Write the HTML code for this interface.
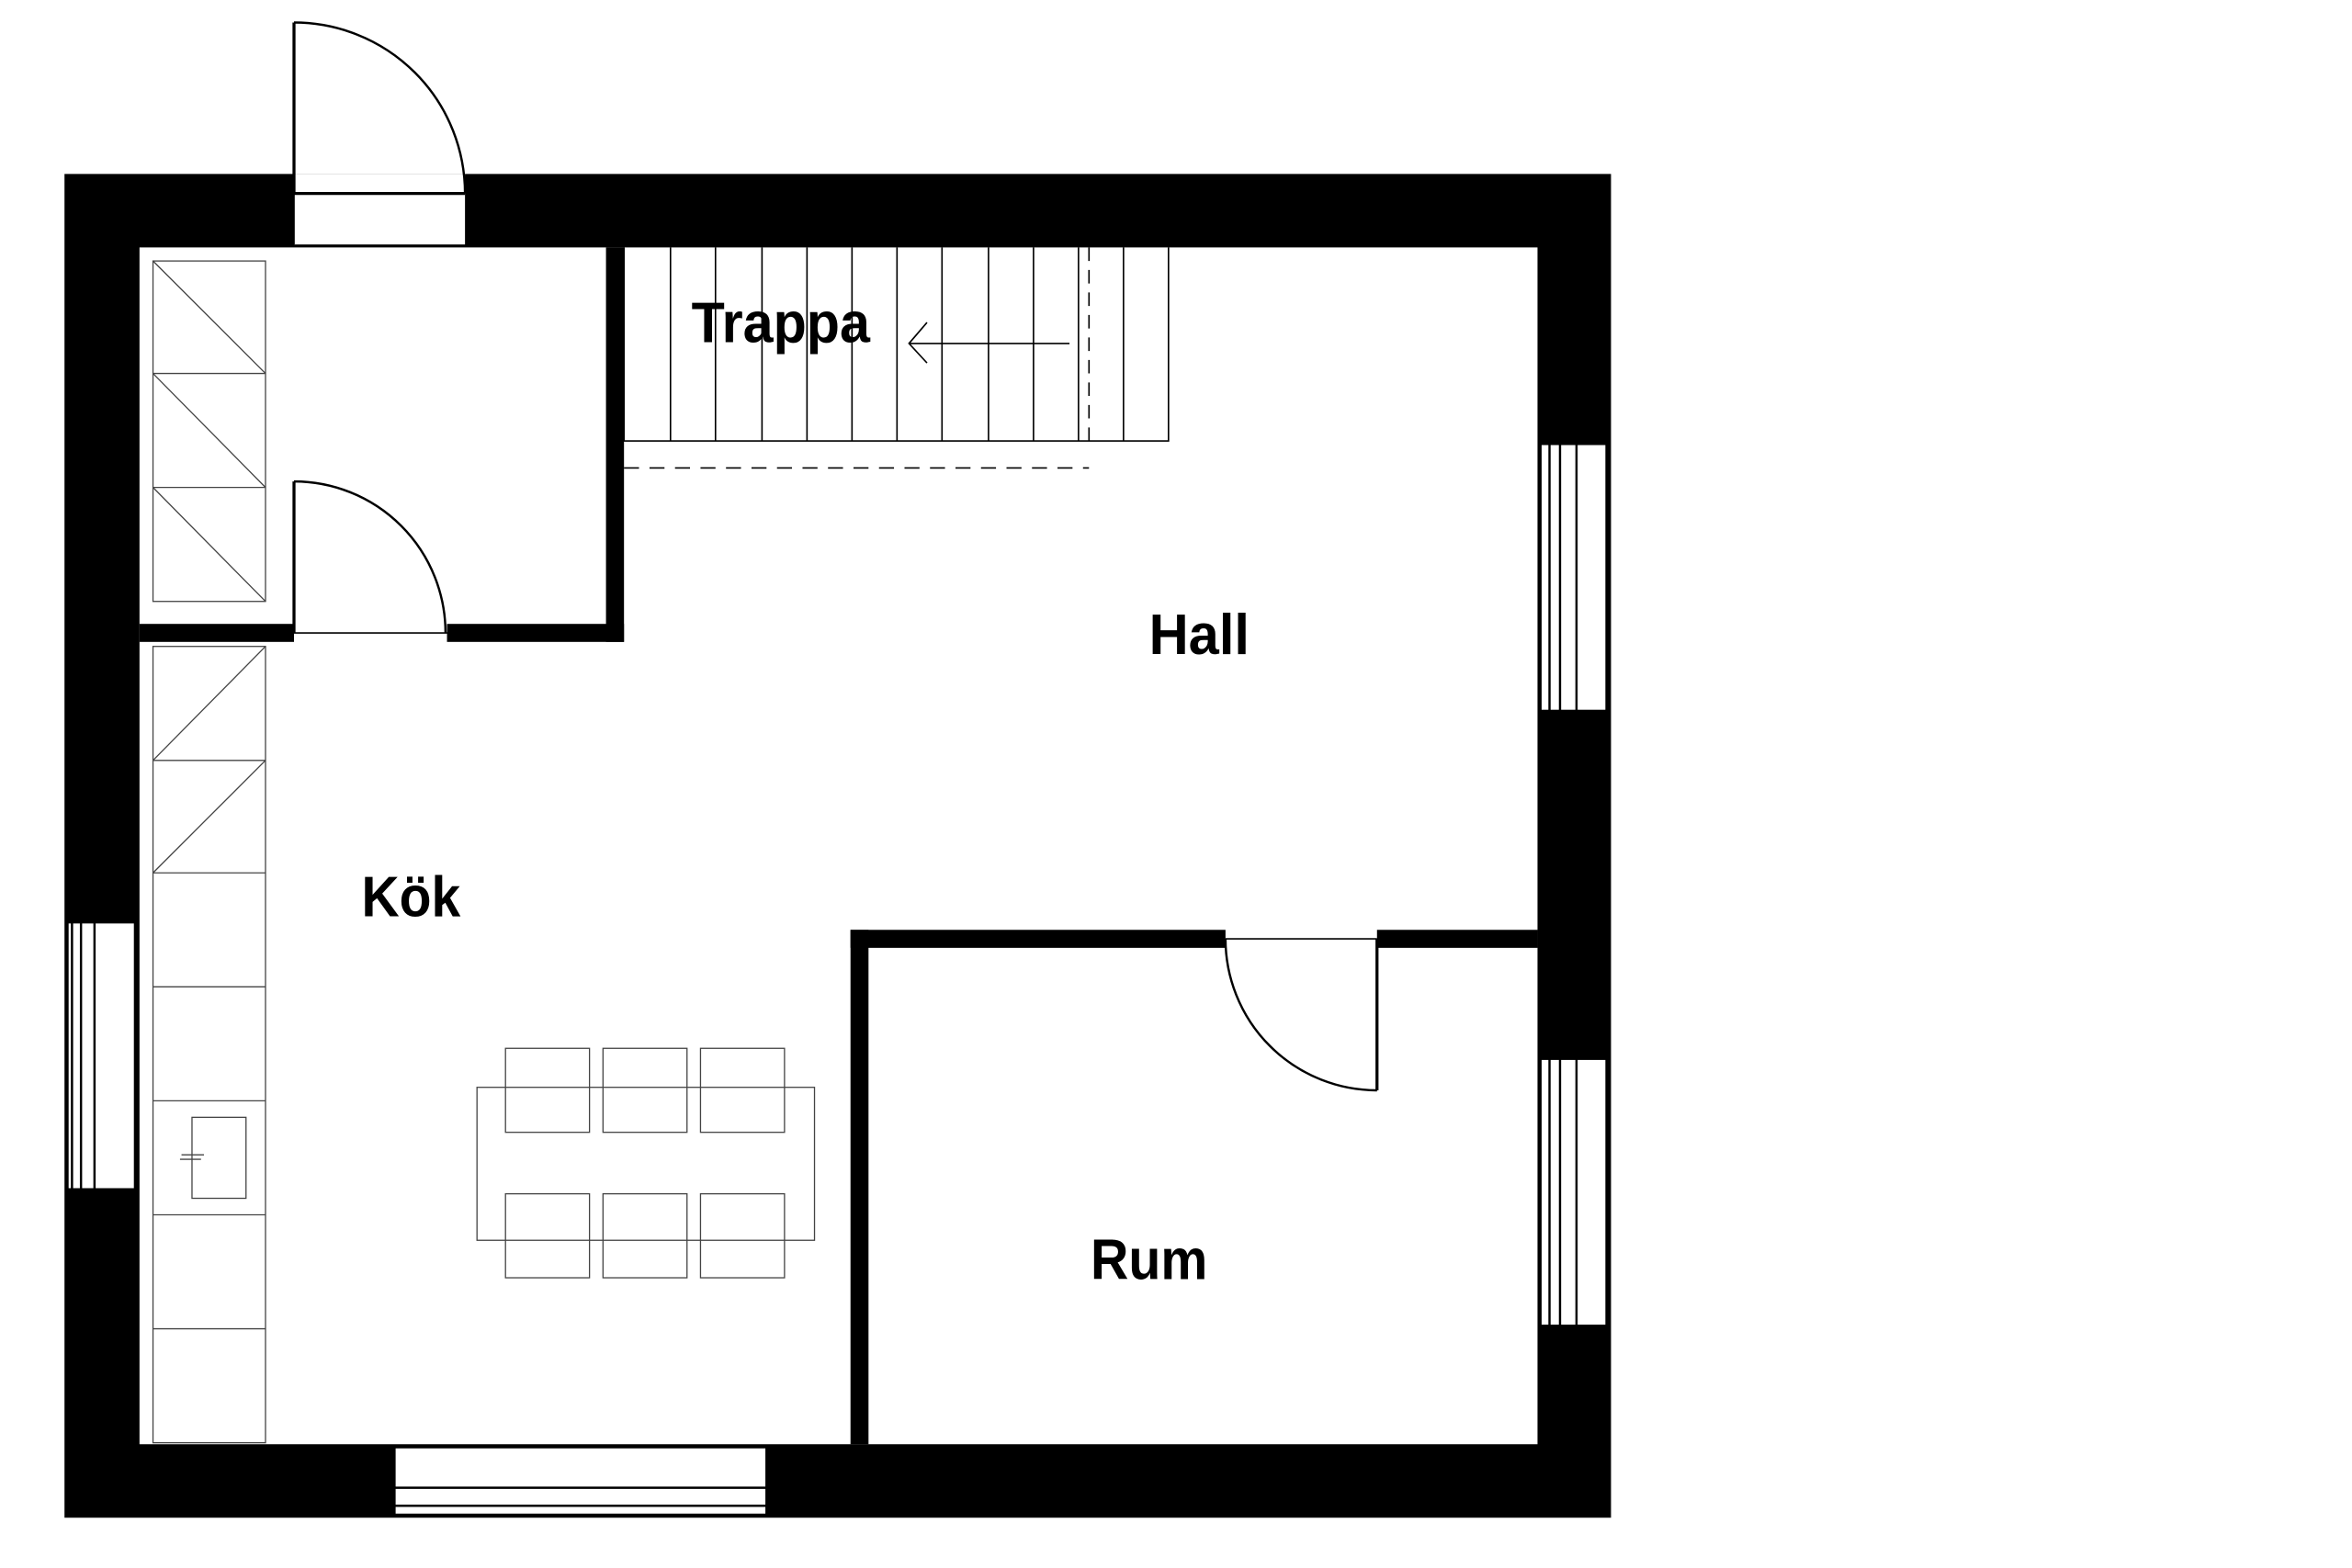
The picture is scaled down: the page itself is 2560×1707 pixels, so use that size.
<!DOCTYPE html>
<html><head><meta charset="utf-8"><style>
html,body{margin:0;padding:0;background:#fff}
svg{display:block}
text{font-family:"Liberation Sans Narrow","Liberation Sans",sans-serif;font-weight:bold;font-size:38px;fill:#000}
</style></head><body>
<svg width="2560" height="1707" viewBox="0 0 1568 1045.5" xmlns="http://www.w3.org/2000/svg">
<rect width="1568" height="1046" fill="#fff"/>
<!-- outer walls -->
<path d="M43 116H1074V1012H43Z M93 165V963H1025V165Z" fill="#000" fill-rule="evenodd"/>
<!-- entry opening -->
<rect x="196" y="116" width="114" height="47" fill="#fff"/>
<line x1="196" y1="129" x2="310" y2="129" stroke="#000" stroke-width="2"/>
<line x1="196" y1="116" x2="196" y2="163" stroke="#000" stroke-width="1"/>
<line x1="196" y1="15" x2="196" y2="129" stroke="#000" stroke-width="2"/>
<path d="M196 15A114 114 0 0 1 310 129" fill="none" stroke="#000" stroke-width="1.5"/>
<!-- inner walls closet -->
<rect x="404" y="165" width="12" height="263" fill="#000"/>
<rect x="93" y="416" width="103" height="12" fill="#000"/>
<rect x="298" y="416" width="118" height="12" fill="#000"/>
<line x1="196" y1="422" x2="298" y2="422" stroke="#000" stroke-width="1"/>
<line x1="196" y1="321" x2="196" y2="422" stroke="#000" stroke-width="2"/>
<path d="M196 321A101 101 0 0 1 297 422" fill="none" stroke="#000" stroke-width="1.5"/>
<!-- closet shelves -->
<g fill="none" stroke="#444" stroke-width="0.8">
<rect x="102" y="174" width="75" height="227"/>
<line x1="102" y1="249" x2="177" y2="249"/><line x1="102" y1="325" x2="177" y2="325"/>
<line x1="102" y1="174" x2="177" y2="249"/><line x1="102" y1="249" x2="177" y2="325"/><line x1="102" y1="325" x2="177" y2="401"/>
<!-- kitchen counter -->
<rect x="102" y="431" width="75" height="531"/>
<line x1="102" y1="507" x2="177" y2="507"/><line x1="102" y1="582" x2="177" y2="582"/>
<line x1="102" y1="658" x2="177" y2="658"/><line x1="102" y1="734" x2="177" y2="734"/>
<line x1="102" y1="810" x2="177" y2="810"/><line x1="102" y1="886" x2="177" y2="886"/>
<line x1="177" y1="431" x2="102" y2="507"/><line x1="177" y1="507" x2="102" y2="582"/>
<rect x="128" y="745" width="36" height="54"/>
<line x1="121" y1="770" x2="136" y2="770"/><line x1="120" y1="773" x2="134" y2="773"/>
<!-- table & chairs -->
<rect x="318" y="725" width="225" height="102"/>
<rect x="337" y="699" width="56" height="56"/><rect x="402" y="699" width="56" height="56"/><rect x="467" y="699" width="56" height="56"/>
<rect x="337" y="796" width="56" height="56"/><rect x="402" y="796" width="56" height="56"/><rect x="467" y="796" width="56" height="56"/>
</g>
<!-- stairs -->
<g fill="none" stroke="#000" stroke-width="1">
<path d="M416 165V294H779V165"/>
<path d="M447 165V294M477 165V294M508 165V294M538 165V294M568 165V294M598 165V294M628 165V294M659 165V294M689 165V294M719 165V294M749 165V294"/>
<path d="M726 165V300" stroke-dasharray="9 6"/>
<path d="M416 312H726" stroke-dasharray="10 7"/>
<path d="M713 229H606M618 215L606 229L618 242"/>
</g>
<!-- Rum walls -->
<rect x="567" y="620" width="12" height="343" fill="#000"/>
<rect x="567" y="620" width="250" height="12" fill="#000"/>
<rect x="918" y="620" width="107" height="12" fill="#000"/>
<line x1="817" y1="626" x2="918" y2="626" stroke="#000" stroke-width="1"/>
<line x1="918" y1="626" x2="918" y2="727" stroke="#000" stroke-width="2"/>
<path d="M817 626A101 101 0 0 0 918 727" fill="none" stroke="#000" stroke-width="1.5"/>
<!-- windows -->
<g stroke="#000" stroke-width="1.5">
<rect x="1027" y="296" width="44" height="178" fill="#fff"/>
<line x1="1033" y1="296" x2="1033" y2="474"/><line x1="1040" y1="296" x2="1040" y2="474"/><line x1="1051" y1="296" x2="1051" y2="474"/>
<rect x="1027" y="706" width="44" height="178" fill="#fff"/>
<line x1="1033" y1="706" x2="1033" y2="884"/><line x1="1040" y1="706" x2="1040" y2="884"/><line x1="1051" y1="706" x2="1051" y2="884"/>
<rect x="45" y="615" width="45" height="178" fill="#fff"/>
<line x1="48" y1="615" x2="48" y2="793"/><line x1="54" y1="615" x2="54" y2="793"/><line x1="63" y1="615" x2="63" y2="793"/>
<rect x="263" y="965" width="248" height="45" fill="#fff"/>
<line x1="263" y1="992" x2="511" y2="992"/><line x1="263" y1="1004" x2="511" y2="1004"/>
</g>
<!-- labels -->
<text x="461" y="228" textLength="119" lengthAdjust="spacingAndGlyphs">Trappa</text>
<text x="766" y="436" textLength="67" lengthAdjust="spacingAndGlyphs">Hall</text>
<text x="241" y="611" textLength="66" lengthAdjust="spacingAndGlyphs">Kök</text>
<text x="727" y="853" textLength="78" lengthAdjust="spacingAndGlyphs">Rum</text>
</svg>
</body></html>
